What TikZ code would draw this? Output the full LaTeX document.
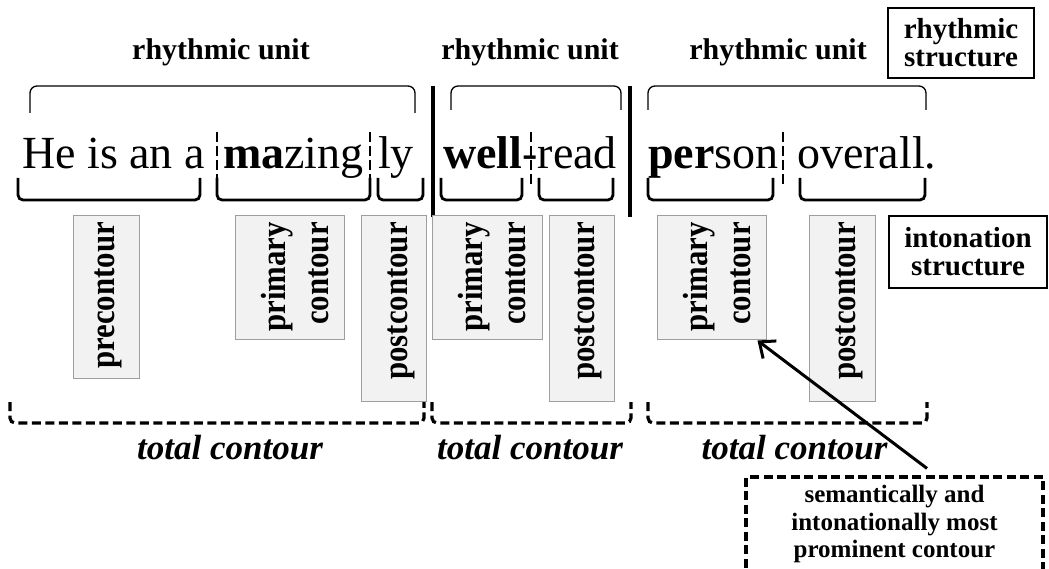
\documentclass[tikz,border=0pt]{standalone}
\usepackage{fontspec}
\setmainfont{Liberation Serif}
\newfontfamily\uprightnarrow[FakeStretch=0.88]{Liberation Serif}
\usetikzlibrary{arrows.meta,calc}
\begin{document}
\begin{tikzpicture}[x=1pt,y=-1pt,
  word/.style={anchor=base west,inner sep=0pt,font=\fontsize{46}{50}\selectfont},
  unitlabel/.style={anchor=base,inner sep=0pt,font=\fontsize{30}{32}\selectfont\bfseries},
  tagbox/.style={draw,line width=2.6pt,inner sep=0pt,align=center,
    font=\fontsize{29}{28}\selectfont\bfseries},
  notebox/.style={draw,line width=3.2pt,dash pattern=on 9pt off 4.5pt,inner sep=0pt,
    align=center,font=\fontsize{25}{27.5}\selectfont\bfseries},
  contourbox/.style={draw=black!38,fill=black!5,line width=1pt,inner sep=0pt},
  contourtext/.style={rotate=90,anchor=east,inner sep=0pt,align=right,
    font=\uprightnarrow\fontsize{35}{43}\selectfont\bfseries},
  totallabel/.style={anchor=base,inner sep=0pt,font=\fontsize{35}{38}\selectfont\bfseries\itshape},
  unitbrace/.style={line width=1.3pt,rounded corners=7pt},
  footbrace/.style={line width=2.8pt,rounded corners=5pt},
  totalbrace/.style={line width=3.2pt,dash pattern=on 9pt off 4.5pt,rounded corners=5pt},
  boundary/.style={line width=3.8pt},
  syllable/.style={line width=2.2pt,dash pattern=on 10pt off 4pt},
  pointer/.style={line width=3pt,-{Straight Barb[length=13pt,width=22pt,line width=3pt]}},
]
\useasboundingbox (0,0) rectangle (1049,569);

% rhythmic unit labels
\node[unitlabel] (ru1) at (221,60) {rhythmic unit};
\node[unitlabel] (ru2) at (530,60) {rhythmic unit};
\node[unitlabel] (ru3) at (778,60) {rhythmic unit};

% structure tags
\node[tagbox,minimum width=146pt,minimum height=70pt] (rs) at (961,43) {rhythmic\\structure};
\node[tagbox,minimum width=158pt,minimum height=72pt] (is) at (968,252) {intonation\\structure};

% braces over the rhythmic units
\draw[unitbrace] (30,113) -- (30,86) -- (415,86) -- (415,113);
\draw[unitbrace] (451,110) -- (451,86) -- (621,86) -- (621,110);
\draw[unitbrace] (648,110) -- (648,86) -- (926,86) -- (926,110);

% boundaries between rhythmic units
\draw[boundary] (433,86) -- (433,217);
\draw[boundary] (630,86) -- (630,217);

% the sentence
\node[word] (w1) at (22,169) {He is an a};
\node[word] (w2) at (223,169) {\textbf{ma}zing};
\node[word] (w3) at (378,169) {ly};
\node[word] (w4) at (443,169) {\textbf{well}-read};
\node[word] (w5) at (648,169) {\textbf{per}son};
\node[word] (w6) at (797,169) {overall.};

% syllable dividers
\foreach \x in {217,370,531,783}
  \draw[syllable] (\x,132) -- (\x,186);

% brackets under the contour segments
\foreach \a/\b in {18/200,217/370,378/423,441/522,539/613,648/773,800/925}
  \draw[footbrace] (\a,178) -- (\a,200) -- (\b,200) -- (\b,178);

% contour boxes
\node[contourbox,minimum width=66pt,minimum height=162pt] (b1) at (106,297) {};
\node[contourbox,minimum width=109pt,minimum height=123pt] (b2) at (289.5,277.5) {};
\node[contourbox,minimum width=65pt,minimum height=185pt] (b3) at (393.5,308.5) {};
\node[contourbox,minimum width=110pt,minimum height=123pt] (b4) at (487,277.5) {};
\node[contourbox,minimum width=65pt,minimum height=185pt] (b5) at (581.5,308.5) {};
\node[contourbox,minimum width=109pt,minimum height=123pt] (b6) at (711.5,277.5) {};
\node[contourbox,minimum width=66pt,minimum height=185pt] (b7) at (842,308.5) {};

\node[contourtext] (t1) at (108.5,222) {precontour};
\node[contourtext] (t2) at (295,222) {primary\\contour};
\node[contourtext] (t3) at (401,222) {postcontour};
\node[contourtext] (t4) at (492,222) {primary\\contour};
\node[contourtext] (t5) at (588,222) {postcontour};
\node[contourtext] (t6) at (717,222) {primary\\contour};
\node[contourtext] (t7) at (849,222) {postcontour};

% total contour brackets
\foreach \a/\b in {10/424,432/631,648/927}
  \draw[totalbrace] (\a,402) -- (\a,423) -- (\b,423) -- (\b,402);

\node[totallabel] (tc1) at (230,459) {total contour};
\node[totallabel] (tc2) at (530,459) {total contour};
\node[totallabel] (tc3) at (794.5,459) {total contour};

% most prominent contour note (its lower edge runs along the page border)
\node[notebox,minimum width=297pt,minimum height=94pt] (note) at (894.5,524)
  {semantically and\\intonationally most\\prominent contour};
\draw[pointer] ($(note.north)+(32.5,-7)$) -- ($(b6.south east)+(-9,1)$);
\end{tikzpicture}
\end{document}
